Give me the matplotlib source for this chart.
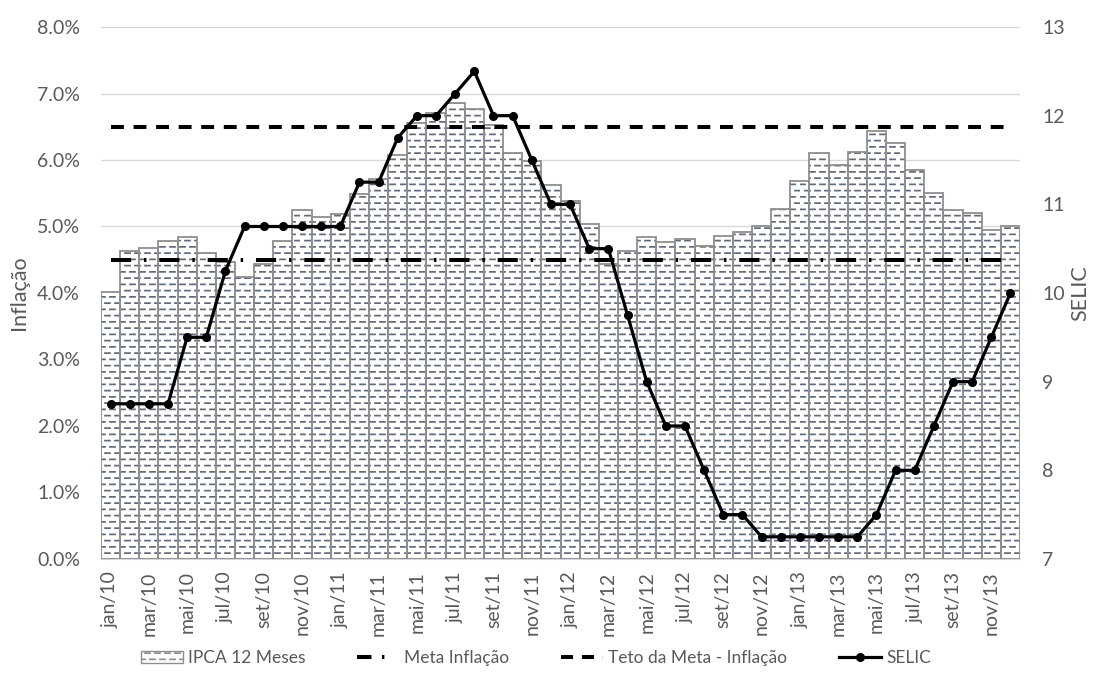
import warnings
warnings.filterwarnings("ignore")
import numpy as np
import matplotlib
matplotlib.use("Agg")
import matplotlib.pyplot as plt
from matplotlib import hatch as mhatch
from matplotlib.path import Path
from matplotlib.patches import Patch
from matplotlib.lines import Line2D
from matplotlib.ticker import FuncFormatter, MultipleLocator

# ---------------- data ----------------
months = ["jan", "fev", "mar", "abr", "mai", "jun", "jul", "ago", "set", "out", "nov", "dez"]
years = ["10", "11", "12", "13"]
categories = [f"{m}/{y}" for y in years for m in months]

ipca_12m = [4.02, 4.63, 4.67, 4.78, 4.84, 4.60, 4.46, 4.24, 4.43, 4.78, 5.25, 5.14,
            5.19, 5.49, 5.71, 6.08, 6.56, 6.70, 6.85, 6.77, 6.53, 6.10, 5.99, 5.63,
            5.38, 5.03, 4.44, 4.63, 4.84, 4.76, 4.81, 4.70, 4.85, 4.91, 5.01, 5.26,
            5.68, 6.10, 5.92, 6.12, 6.43, 6.26, 5.85, 5.50, 5.25, 5.21, 4.94, 5.01]
meta_inflacao = [4.5] * 48
teto_meta = [6.5] * 48
selic = [8.75, 8.75, 8.75, 8.75, 9.5, 9.5, 10.25, 10.75, 10.75, 10.75, 10.75, 10.75,
         10.75, 11.25, 11.25, 11.75, 12.0, 12.0, 12.25, 12.5, 12.0, 12.0, 11.5, 11.0,
         11.0, 10.5, 10.5, 9.75, 9.0, 8.5, 8.5, 8.0, 7.5, 7.5, 7.25, 7.25,
         7.25, 7.25, 7.25, 7.25, 7.5, 8.0, 8.0, 8.5, 9.0, 9.0, 9.5, 10.0]

# ---------------- custom dashed-horizontal hatch ----------------
class DashHatch(mhatch.HatchPatternBase):
    NROWS = 16
    NCOLS = 10

    def __init__(self, hatch, density):
        self.on = hatch.count('d') > 0
        self.num_vertices = self.NROWS * self.NCOLS * 2 if self.on else 0

    def set_vertices_and_codes(self, vertices, codes):
        k = 0
        for r in range(self.NROWS):
            y = (r + 0.5) / self.NROWS
            off = 0.05 if r % 2 else 0.0
            for c in range(self.NCOLS):
                x0 = c * 0.1 + off
                vertices[k] = [x0, y]
                vertices[k + 1] = [min(x0 + 0.05, 1.0), y]
                codes[k] = Path.MOVETO
                codes[k + 1] = Path.LINETO
                k += 2

mhatch._hatch_types.append(DashHatch)

plt.rcParams['font.family'] = ['Lato', 'DejaVu Sans']
plt.rcParams['hatch.linewidth'] = 1.25
TXT = "#595959"
HATCH_C = "#5f6a7e"

fig = plt.figure(figsize=(10.94, 6.82), dpi=100)
ax = fig.add_axes([0.0923, 0.1804, 0.8401, 0.7800])
ax2 = ax.twinx()

x = np.arange(len(categories))
ipca_frac = np.array(ipca_12m) / 100.0

ax.bar(x, ipca_frac, width=1.0, color="white", edgecolor=HATCH_C, linewidth=0,
       hatch="d", zorder=2)
ax.bar(x, ipca_frac, width=1.0, fill=False, edgecolor="#8f8f8f", linewidth=1.3, zorder=3)

ax.plot(x, np.array(meta_inflacao) / 100, color="black", lw=2.9,
        dashes=(5.0, 3.2, 0.6, 3.2), zorder=4)
ax.plot(x, np.array(teto_meta) / 100, color="black", lw=2.9,
        dashes=(3.2, 2.4), zorder=4)

ax2.plot(x, selic, color="black", lw=2.3, marker="o", markersize=5.5, zorder=5)

ax.set_xlim(-0.5, len(categories) - 0.5)
ax.set_ylim(0, 0.08)
ax.yaxis.set_major_locator(MultipleLocator(0.01))
ax.yaxis.set_major_formatter(FuncFormatter(lambda v, p: f"{v*100:.1f}%"))
ax2.set_ylim(7, 13)
ax2.yaxis.set_major_locator(MultipleLocator(1))

ax.set_xticks(x[::2])
ax.set_xticklabels(categories[::2], rotation=90)

ax.grid(axis="y", color="#d9d9d9", lw=1.0, zorder=0)
ax.set_axisbelow(True)

for a in (ax, ax2):
    for s in a.spines.values():
        s.set_visible(False)
    a.tick_params(length=0, colors=TXT, labelsize=14)
ax.spines["bottom"].set_visible(True)
ax.spines["bottom"].set_color("#d9d9d9")
ax.tick_params(axis="y", pad=15)
ax2.tick_params(axis="y", pad=16)
ax.tick_params(axis="x", pad=9)

ax.set_ylabel("Inflação", color=TXT, fontsize=15.5, labelpad=6)
ax2.set_ylabel("SELIC", color=TXT, fontsize=15.5, labelpad=4)

handles = [
    Patch(facecolor="white", edgecolor="#8f8f8f", hatch="d", linewidth=1.0),
    Line2D([], [], color="black", lw=2.9, dashes=(3.6, 2.6, 0.6, 6.0)),
    Line2D([], [], color="black", lw=2.9, dashes=(3.0, 2.2)),
    Line2D([], [], color="black", lw=2.3, marker="o", markersize=5.5),
]
labels = ["IPCA 12 Meses", "Meta Inflação", "Teto da Meta - Inflação", "SELIC"]
leg = fig.legend(handles, labels, loc="center", bbox_to_anchor=(0.49, 0.035), ncol=4,
                 frameon=False, fontsize=12.5, handlelength=2.4, columnspacing=3.0,
                 handletextpad=0.3)
for t in leg.get_texts():
    t.set_color(TXT)

fig.savefig("out.png", dpi=100)
